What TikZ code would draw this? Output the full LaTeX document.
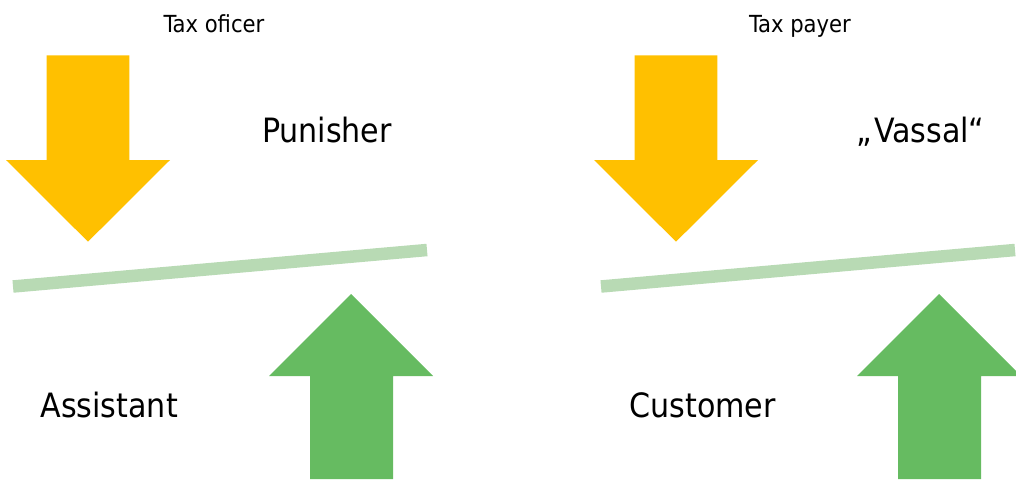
\documentclass[tikz,border=0pt]{standalone}
\usepackage{fontspec}
\setmainfont{DejaVu Sans Condensed}
\usepackage{xcolor}
\usepackage{tikz}

\definecolor{gold}{HTML}{FFC000}
\definecolor{leaf}{HTML}{66BB61}
\definecolor{pale}{HTML}{B8DAB4}

\begin{document}
\begin{tikzpicture}[x=1pt, y=-1pt,
    role/.style={anchor=base, font=\fontsize{23.5}{28}\selectfont},
    side/.style={anchor=base west, font=\fontsize{33.5}{40}\selectfont}]
        \useasboundingbox (0,0) rectangle (1016,479);
        \clip (0,0) rectangle (1016,479);

        % the two scales
        \foreach \dx in {0,588} {
            \begin{scope}[xshift=\dx pt]
                \fill[gold] (46.7,55.3) -- (129.3,55.3) -- (129.3,160) -- (170,160)
                    -- (88,241.7) -- (6,160) -- (46.7,160) -- cycle;
                \draw[pale, line width=12.5pt] (13,286.5) -- (427,250);
                \fill[leaf] (310,479) -- (310,376) -- (269,376) -- (351,294)
                    -- (433,376) -- (393,376) -- (393,479) -- cycle;
            \end{scope}
        }

        \node[role] (officer) at (214,32.3) {Tax oficer};
        \node[side] (punisher) at (258.5,142.5) {Punisher};
        \node[side] (assistant) at (37,417) {Assistant};

        \node[role] (payer) at (800,32.3) {Tax payer};
        \node[side] (vassal) at (853,142.5) {„\kern2pt Vassal“};
        \node[side] (customer) at (626,417) {Customer};
    \end{tikzpicture}
\end{document}
